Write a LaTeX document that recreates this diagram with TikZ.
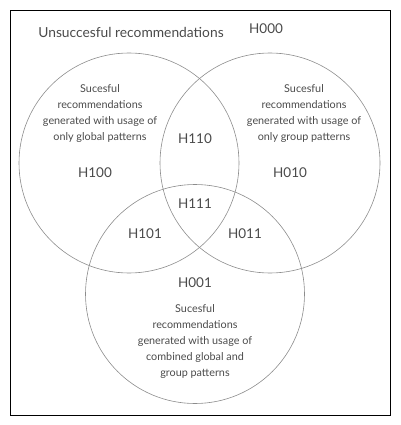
\documentclass[tikz,border=0pt]{standalone}
\usepackage{fontspec}
\setmainfont{Lato}
\definecolor{txt}{HTML}{4A4A4A}
\definecolor{ring}{HTML}{8C8C8C}
\begin{document}
\begin{tikzpicture}[x=1pt,y=-1pt,
  ring/.style={draw=ring,line width=0.6pt},
  lbl/.style={text=txt,font=\fontsize{13.5}{15}\selectfont,inner sep=0pt},
  desc/.style={text=txt,font=\fontsize{10.8}{16}\selectfont,align=center,inner sep=0pt}]
\useasboundingbox (0,0) rectangle (400,425);
\draw[black,line width=0.8pt] (10,10) rectangle (390.5,415);
\node[ring,circle,minimum size=220pt,inner sep=0pt] (cl) at (129,163) {};
\node[ring,circle,minimum size=220pt,inner sep=0pt] (cr) at (270,163) {};
\node[ring,circle,minimum size=219pt,inner sep=0pt] (cb) at (195,294) {};
\node[lbl,font=\fontsize{13.8}{15}\selectfont] (uns) at (131,32) {Unsuccesful recommendations};
\node[lbl] (h000) at (266,29) {H000};
\node[desc] (dl) at (100,114) {Sucesful\\recommendations\\generated with usage of\\only global patterns};
\node[desc] (dr) at (304,114) {Sucesful\\recommendations\\generated with usage of\\only group patterns};
\node[desc] (db) at (195,342) {Sucesful\\recommendations\\generated with usage of\\combined global and\\group patterns};
\node[lbl] (h110) at (195,139) {H110};
\node[lbl] (h100) at (95,173) {H100};
\node[lbl] (h010) at (290,173) {H010};
\node[lbl] (h111) at (195,204) {H111};
\node[lbl] (h101) at (145,234) {H101};
\node[lbl] (h011) at (245,234) {H011};
\node[lbl] (h001) at (195,283) {H001};
\end{tikzpicture}
\end{document}
